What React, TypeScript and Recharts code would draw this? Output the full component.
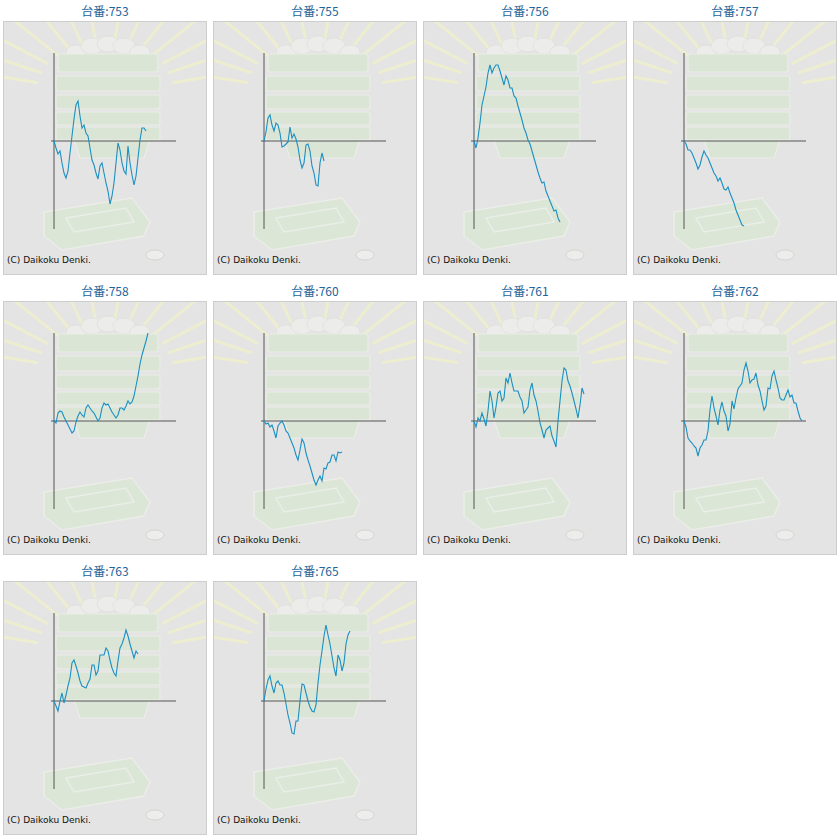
import { Line, LineChart, ReferenceLine, XAxis, YAxis } from 'recharts';

// machine numbers shown above each panel
const machineIds = ['753', '755', '756', '757', '758', '760', '761', '762', '763', '765'];

// cumulative difference per sample (one sample every 2 games-steps)
const s753 = [0, -7, -13, -10, -22, -32, -37, -30, -12, 5, 22, 36, 40, 25, 13, 16, 8, 5, -7, -19, -24, -32, -38, -25, -22, -32, -42, -50, -63, -55, -42, -22, -2, -9, -22, -30, -33, -5, -22, -34, -44, -35, -17, 1, 13, 13, 10];
const s755 = [0, 9, 23, 26, 16, 10, 18, 16, 8, -6, -5, -3, -1, 14, 3, 7, 2, -6, -19, -27, -22, -4, -3, -10, -25, -32, -44, -45, -22, -12, -20];
const s756 = [0, -7, 3, 18, 36, 45, 54, 68, 76, 68, 73, 76, 76, 70, 63, 56, 65, 61, 53, 53, 45, 43, 35, 28, 21, 13, 8, 1, -3, -10, -17, -24, -31, -37, -42, -41, -50, -55, -60, -65, -70, -69, -77, -81];
const s757 = [0, -3, -9, -9, -12, -17, -22, -28, -24, -16, -10, -14, -17, -22, -27, -32, -35, -40, -37, -42, -48, -49, -46, -52, -57, -62, -69, -74, -79, -84, -85];
const s758 = [0, -2, 8, 10, 9, 4, 0, -4, -8, -12, -10, -1, 5, 9, 6, 4, 13, 16, 13, 10, 8, 4, 0, 3, 13, 18, 16, 17, 13, 9, 6, 3, 6, 13, 13, 11, 15, 20, 17, 19, 25, 35, 45, 57, 66, 73, 80, 88];
const s760 = [0, -3, -2, -6, -4, -10, -17, -5, -2, 0, -4, -10, -12, -17, -22, -27, -34, -39, -29, -18, -22, -32, -39, -45, -52, -59, -64, -59, -55, -60, -47, -48, -42, -41, -34, -34, -40, -31, -32, -31];
const s761 = [0, -6, 3, 0, 8, 2, -5, 10, 30, 20, 3, 14, 28, 30, 20, 23, 43, 38, 48, 38, 30, 30, 30, 24, 20, 8, 11, 14, 31, 38, 26, 20, 10, -2, -9, -17, -9, -7, -5, -15, -20, -26, 0, 20, 40, 53, 51, 40, 35, 28, 20, 12, 3, 16, 33, 27];
const s762 = [0, -6, -17, -20, -22, -25, -27, -35, -27, -24, -19, -19, -10, 11, 25, 13, 5, -4, 11, 19, 10, 5, -10, -3, 20, 12, 23, 32, 35, 38, 51, 58, 50, 38, 41, 42, 48, 36, 30, 20, 11, 15, 33, 32, 45, 50, 41, 33, 23, 21, 21, 26, 31, 24, 26, 18, 18, 10, 3, 0];
const s763 = [0, -5, -10, 0, 8, -2, 6, 15, 23, 38, 41, 35, 28, 20, 15, 14, 13, 18, 22, 36, 36, 26, 30, 46, 46, 46, 53, 50, 41, 33, 28, 25, 40, 53, 57, 63, 71, 65, 57, 50, 43, 50, 47];
const s765 = [0, 12, 21, 25, 15, 8, 18, 20, 16, 16, 8, -3, -14, -22, -32, -33, -20, -20, 0, 17, 16, 8, 0, -6, -10, -11, -4, 18, 36, 50, 65, 76, 66, 57, 45, 33, 25, 46, 41, 30, 38, 57, 66, 70];

const seriesList = [s753, s755, s756, s757, s758, s760, s761, s762, s763, s765];

const X_DOMAIN: [number, number] = [-1.5, 61];
const Y_DOMAIN: [number, number] = [-88, 88];

const LINE_COLOR = '#1a90c2';
const AXIS_COLOR = '#555555';

const RAY_ANGLES = [192, 203, 214, 226, 238, 250, 262, 278, 290, 302, 314, 326, 337, 348];

// faint picture behind the plot
const Backdrop = () => (
  <svg
    height={252}
    style={{ left: 0, position: 'absolute', top: 0 }}
    width={202}
  >
    <g opacity={0.55}>
      <g stroke="#f6f6c0" strokeLinecap="round" strokeWidth={3}>
        {RAY_ANGLES.map((a) => {
          const r = (a * Math.PI) / 180;
          return (
            <line
              key={a}
              x1={101 + Math.cos(r) * 70}
              x2={101 + Math.cos(r) * 160}
              y1={72 + Math.sin(r) * 55}
              y2={72 + Math.sin(r) * 125}
            />
          );
        })}
      </g>
      <g fill="#f4f4f2" stroke="#dcdcd6" strokeWidth={0.8}>
        <ellipse cx={72} cy={30} rx={10} ry={7} />
        <ellipse cx={88} cy={24} rx={11} ry={8} />
        <ellipse cx={104} cy={22} rx={11} ry={8} />
        <ellipse cx={120} cy={24} rx={11} ry={8} />
        <ellipse cx={136} cy={30} rx={10} ry={7} />
      </g>
      <g fill="#d2e6cb" stroke="#f0f6ec" strokeWidth={1.2}>
        <path d="M70 118 L146 118 L140 136 L76 136 Z" />
        <rect height={13} rx={2} width={104} x={52} y={105} />
        <rect height={13} rx={2} width={104} x={52} y={90} />
        <rect height={14} rx={2} width={104} x={52} y={73} />
        <rect height={15} rx={2} width={104} x={52} y={54} />
        <rect height={18} rx={2} width={100} x={54} y={32} />
      </g>
      <g fill="#d4e8cb" stroke="#f0f6ec" strokeWidth={1.5}>
        <path d="M40 190 L128 176 L146 200 L140 214 L58 228 L40 214 Z" />
        <path d="M62 196 L122 186 L130 200 L70 210 Z" fill="none" />
      </g>
      <ellipse cx={151} cy={233} fill="#f6f6f4" rx={9} ry={5} stroke="#c8c8c4" />
    </g>
  </svg>
);

const Panel = ({ id, values, col, row }: { id: string; values: number[]; col: number; row: number }) => {
  const rows = values.map((v, i) => ({ i, v }));
  return (
    <div style={{ left: 3 + col * 210, position: 'absolute', top: row * 280, width: 204 }}>
      <div
        style={{
          color: '#22649a',
          fontFamily: '"Noto Sans CJK JP", sans-serif',
          fontSize: 12,
          height: 21,
          lineHeight: '21px',
          textAlign: 'center',
        }}
      >
        台番:{id}
      </div>
      <div
        style={{
          background: '#e4e4e4',
          border: '1px solid #cdcdcd',
          height: 252,
          position: 'relative',
          width: 202,
        }}
      >
        <Backdrop />
        <div style={{ left: 0, position: 'absolute', top: 0 }}>
          <LineChart
            data={rows}
            height={252}
            margin={{ bottom: 45, left: 47, right: 30, top: 31 }}
            width={202}
          >
            <XAxis dataKey="i" domain={X_DOMAIN} hide type="number" />
            <YAxis domain={Y_DOMAIN} hide type="number" />
            <ReferenceLine stroke={AXIS_COLOR} x={0} />
            <ReferenceLine stroke={AXIS_COLOR} y={0} />
            <Line
              dataKey="v"
              dot={false}
              isAnimationActive={false}
              stroke={LINE_COLOR}
              strokeWidth={1.1}
              type="linear"
            />
          </LineChart>
        </div>
        <div
          style={{
            color: '#111',
            fontFamily: '"DejaVu Sans", Verdana, sans-serif',
            fontSize: 9,
            left: 3,
            lineHeight: '11px',
            position: 'absolute',
            top: 233,
          }}
        >
          (C) Daikoku Denki.
        </div>
      </div>
    </div>
  );
};

export default function App() {
  return (
    <div style={{ background: '#fff', height: 840, left: 0, position: 'absolute', top: 0, width: 840 }}>
      {machineIds.map((id, k) => (
        <Panel col={k % 4} id={id} key={id} row={Math.floor(k / 4)} values={seriesList[k]} />
      ))}
    </div>
  );
}
